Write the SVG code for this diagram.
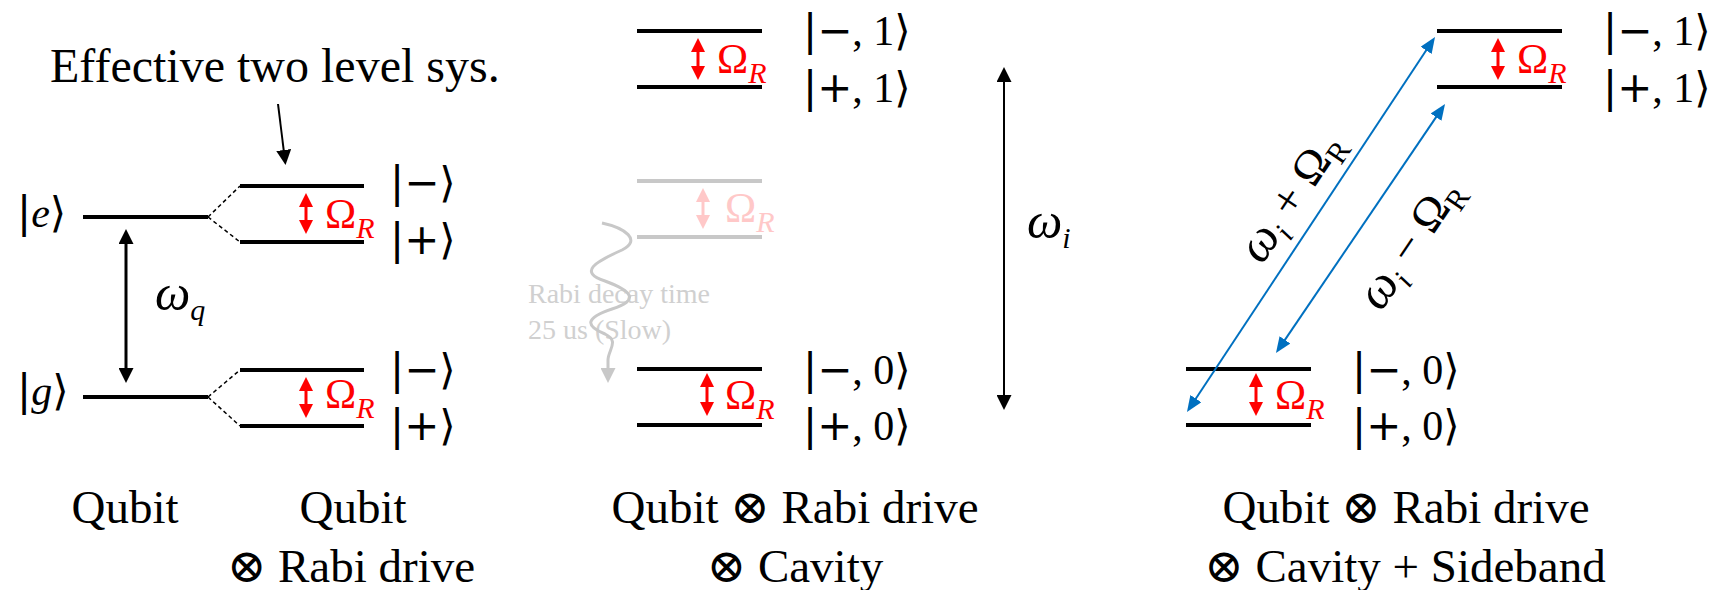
<svg xmlns="http://www.w3.org/2000/svg" width="1725" height="590" viewBox="0 0 1725 590">
<style>
.lvl{stroke:#000;stroke-width:4;fill:none}
.fade{stroke:#c8c8c8;stroke-width:4;fill:none}
.dash{stroke:#000;stroke-width:1.5;stroke-dasharray:4 3;fill:none}
.ket{font-family:"Liberation Serif","DejaVu Serif",serif;font-size:42px;fill:#000}
.k{font-family:"DejaVu Sans",sans-serif}
.om{font-family:"Liberation Serif","DejaVu Serif",serif;font-size:42px;fill:#ff0000}
.omf{font-family:"Liberation Serif","DejaVu Serif",serif;font-size:42px;fill:#ffc8c8}
.sub{font-size:30px;font-style:italic}
.subu{font-size:30px}
.cap{font-family:"Liberation Serif","DejaVu Serif",serif;font-size:47px;fill:#000;text-anchor:middle}
.math{font-family:"Liberation Serif","DejaVu Serif",serif;font-size:42px;fill:#000}
.big{font-size:48px}
.w{font-style:italic;font-size:50px}
.it{font-style:italic}
.rarr{stroke:#ff0000;stroke-width:3;fill:none;marker-start:url(#mr);marker-end:url(#mr)}
.rarrf{stroke:#ffc8c8;stroke-width:3;fill:none;marker-start:url(#mrf);marker-end:url(#mrf)}
.barr{stroke:#0070c0;stroke-width:2;fill:none;marker-start:url(#mb);marker-end:url(#mb)}
</style>
<defs>
<marker id="mr" markerUnits="userSpaceOnUse" markerWidth="14" markerHeight="14" refX="3" refY="7" orient="auto-start-reverse"><path d="M0,0 L14,7 L0,14 z" fill="#ff0000"/></marker>
<marker id="mrf" markerUnits="userSpaceOnUse" markerWidth="14" markerHeight="14" refX="3" refY="7" orient="auto-start-reverse"><path d="M0,0 L14,7 L0,14 z" fill="#ffc8c8"/></marker>
<marker id="mk" markerUnits="userSpaceOnUse" markerWidth="15" markerHeight="15" refX="4" refY="7.5" orient="auto-start-reverse"><path d="M0,0 L15,7.5 L0,15 z" fill="#000"/></marker>
<marker id="mb" markerUnits="userSpaceOnUse" markerWidth="16" markerHeight="13" refX="4" refY="6.5" orient="auto-start-reverse"><path d="M0,0 L16,6.5 L0,13 z" fill="#0070c0"/></marker>
<marker id="mg" markerUnits="userSpaceOnUse" markerWidth="15" markerHeight="15" refX="2" refY="7.5" orient="auto"><path d="M0,0 L15,7.5 L0,15 z" fill="#c8c8c8"/></marker>
</defs>
<rect width="1725" height="590" fill="#fff"/>

<text class="math big" x="50" y="82">Effective two level sys.</text>

<g id="qubit-e">
<line class="lvl" x1="83" y1="217" x2="208" y2="217"/>
<text class="ket" x="17" y="227"><tspan class="k">|</tspan><tspan class="it">e</tspan><tspan class="k">⟩</tspan></text>
</g>
<g id="qubit-g">
<line class="lvl" x1="83" y1="397" x2="208" y2="397"/>
<text class="ket" x="17" y="405"><tspan class="k">|</tspan><tspan class="it">g</tspan><tspan class="k">⟩</tspan></text>
</g>
<text class="math" x="155" y="310"><tspan class="w">ω</tspan><tspan class="sub" dy="10">q</tspan></text>
<g id="dressed-e">
<line class="lvl" x1="240" y1="186" x2="364" y2="186"/>
<line class="lvl" x1="240" y1="242" x2="364" y2="242"/>
<line class="rarr" x1="306" y1="204" x2="306" y2="223"/>
<text class="om" x="325" y="228">Ω<tspan class="sub" dy="10">R</tspan></text>
<text class="ket" x="390" y="197"><tspan class="k">|−⟩</tspan></text>
<text class="ket" x="390" y="254"><tspan class="k">|+⟩</tspan></text>
</g>
<g id="dressed-g">
<line class="lvl" x1="240" y1="370" x2="364" y2="370"/>
<line class="lvl" x1="240" y1="426" x2="364" y2="426"/>
<line class="rarr" x1="306" y1="388" x2="306" y2="407"/>
<text class="om" x="325" y="408">Ω<tspan class="sub" dy="10">R</tspan></text>
<text class="ket" x="390" y="384"><tspan class="k">|−⟩</tspan></text>
<text class="ket" x="390" y="440"><tspan class="k">|+⟩</tspan></text>
</g>

<g id="mid-1">
<line class="lvl" x1="637" y1="31" x2="762" y2="31"/>
<line class="lvl" x1="637" y1="87" x2="762" y2="87"/>
<line class="rarr" x1="698" y1="49" x2="698" y2="69"/>
<text class="om" x="717" y="73">Ω<tspan class="sub" dy="10">R</tspan></text>
<text class="ket" x="803" y="45"><tspan class="k">|−</tspan>, 1<tspan class="k">⟩</tspan></text>
<text class="ket" x="803" y="102"><tspan class="k">|+</tspan>, 1<tspan class="k">⟩</tspan></text>
</g>
<g id="mid-faded">
<line class="fade" x1="637" y1="181" x2="762" y2="181"/>
<line class="fade" x1="637" y1="237" x2="762" y2="237"/>
<line class="rarrf" x1="703" y1="199" x2="703" y2="218"/>
<text class="omf" x="725" y="222">Ω<tspan class="sub" dy="10">R</tspan></text>
</g>
<g id="rabi-decay">
<text x="528" y="303" font-family="Liberation Serif, serif" font-size="28" fill="#d0d0d0">Rabi decay time</text>
<text x="528" y="339" font-family="Liberation Serif, serif" font-size="28" fill="#d0d0d0">25 us (Slow)</text>
</g>
<g id="mid-0">
<line class="lvl" x1="637" y1="369" x2="762" y2="369"/>
<line class="lvl" x1="637" y1="425" x2="762" y2="425"/>
<line class="rarr" x1="707" y1="384" x2="707" y2="405"/>
<text class="om" x="725" y="409">Ω<tspan class="sub" dy="10">R</tspan></text>
<text class="ket" x="803" y="384"><tspan class="k">|−</tspan>, 0<tspan class="k">⟩</tspan></text>
<text class="ket" x="803" y="440"><tspan class="k">|+</tspan>, 0<tspan class="k">⟩</tspan></text>
</g>
<text class="math" x="1027" y="238"><tspan class="w">ω</tspan><tspan class="sub" dy="10">i</tspan></text>

<g id="right-1">
<line class="lvl" x1="1437" y1="31" x2="1562" y2="31"/>
<line class="lvl" x1="1437" y1="87" x2="1562" y2="87"/>
<line class="rarr" x1="1498" y1="49" x2="1498" y2="69"/>
<text class="om" x="1517" y="73">Ω<tspan class="sub" dy="10">R</tspan></text>
<text class="ket" x="1603" y="45"><tspan class="k">|−</tspan>, 1<tspan class="k">⟩</tspan></text>
<text class="ket" x="1603" y="102"><tspan class="k">|+</tspan>, 1<tspan class="k">⟩</tspan></text>
</g>
<g id="right-0">
<line class="lvl" x1="1186" y1="369" x2="1311" y2="369"/>
<line class="lvl" x1="1186" y1="425" x2="1311" y2="425"/>
<line class="rarr" x1="1256" y1="384" x2="1256" y2="405"/>
<text class="om" x="1275" y="409">Ω<tspan class="sub" dy="10">R</tspan></text>
<text class="ket" x="1352" y="384"><tspan class="k">|−</tspan>, 0<tspan class="k">⟩</tspan></text>
<text class="ket" x="1352" y="440"><tspan class="k">|+</tspan>, 0<tspan class="k">⟩</tspan></text>
</g>

<g id="connectors">
<line class="dash" x1="208" y1="217" x2="240" y2="186"/>
<line class="dash" x1="208" y1="217" x2="240" y2="242"/>
<line class="dash" x1="208" y1="397" x2="240" y2="370"/>
<line class="dash" x1="208" y1="397" x2="240" y2="426"/>
<line x1="278" y1="104" x2="284.2" y2="154" stroke="#000" stroke-width="2" marker-end="url(#mk)"/>
<line x1="126" y1="240" x2="126" y2="372" stroke="#000" stroke-width="3" marker-start="url(#mk)" marker-end="url(#mk)"/>
<line x1="1004" y1="78" x2="1004" y2="399" stroke="#000" stroke-width="2" marker-start="url(#mk)" marker-end="url(#mk)"/>
<path d="M602,223 C625,228 642,240 622,250 C595,262 578,272 605,281 C632,291 640,300 612,309 C585,318 585,326 605,334 C620,341 608,350 608,360 L608,370" stroke="#c8c8c8" stroke-width="3" fill="none" marker-end="url(#mg)"/>
<line class="barr" x1="1193.6" y1="402" x2="1428.4" y2="47"/>
<line class="barr" x1="1282.7" y1="343.1" x2="1438.3" y2="113.9"/>
</g>
<text class="math" transform="translate(1293,198) rotate(-56)" text-anchor="middle" y="12" style="font-size:46px"><tspan class="w">ω</tspan><tspan class="sub" dy="10">i</tspan><tspan dy="-10"> + Ω</tspan><tspan class="subu" dy="10">R</tspan></text>
<text class="math" transform="translate(1412,245) rotate(-56)" text-anchor="middle" y="12" style="font-size:46px"><tspan class="w">ω</tspan><tspan class="sub" dy="10">i</tspan><tspan dy="-10"> − Ω</tspan><tspan class="subu" dy="10">R</tspan></text>

<g id="captions">
<text class="cap" x="125" y="523">Qubit</text>
<text class="cap" x="353" y="523">Qubit</text>
<text class="cap" x="351" y="582">⊗ Rabi drive</text>
<text class="cap" x="795" y="523">Qubit ⊗ Rabi drive</text>
<text class="cap" x="795" y="582">⊗ Cavity</text>
<text class="cap" x="1406" y="523">Qubit ⊗ Rabi drive</text>
<text class="cap" x="1405" y="582">⊗ Cavity + Sideband</text>
</g>
</svg>
